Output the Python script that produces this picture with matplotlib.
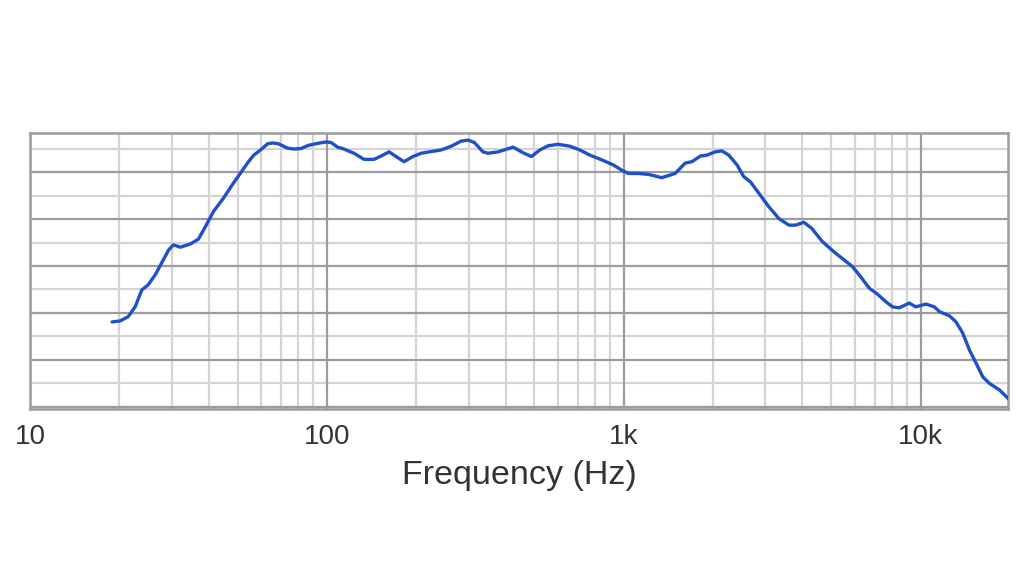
import matplotlib
matplotlib.use("Agg")
import matplotlib.pyplot as plt
import numpy as np
from matplotlib.ticker import FixedLocator, NullFormatter

plt.rcParams['font.family'] = ['Liberation Sans', 'DejaVu Sans']

# frequency response (Hz, dB)
freq = [18.9, 20.1, 21.4, 22.6, 23.8, 25.0, 26.4, 27.9, 29.3, 30.4, 32.1, 34.7,
        36.9, 39.0, 41.5, 44.9, 48.5, 51.2, 54.0, 56.7, 59.8, 63.1, 65.6, 68.8,
        73.6, 77.4, 81.7, 86.9, 93.0, 99.2, 103.2, 108.7, 113.0, 123.4, 133.4,
        144.1, 152.2, 162.0, 171.0, 182.0, 194.8, 207.8, 221.2, 242.7, 262.4,
        283.6, 298.8, 313.8, 335.7, 349.1, 377.3, 424.0, 458.3, 488.7, 521.6,
        556.7, 601.5, 658.5, 711.5, 769.2, 842.8, 923.0, 984.5, 1037, 1121,
        1212, 1343, 1490, 1610, 1697, 1811, 1906, 2034, 2143, 2258, 2409, 2538,
        2672, 2851, 3083, 3332, 3601, 3791, 4046, 4300, 4667, 5110, 5522,
        5890, 6285, 6710, 7156, 7635, 8043, 8472, 9157, 9640, 10420, 11125,
        11570, 12500, 13160, 13870, 14610, 15380, 16200, 17060, 18450, 19940]
spl = [58.1, 58.3, 59.2, 61.3, 64.9, 66.0, 68.1, 70.9, 73.4, 74.5, 74.0, 74.7,
       75.7, 78.4, 81.6, 84.5, 87.7, 89.8, 91.9, 93.6, 94.7, 96.0, 96.2, 96.0,
       95.1, 94.9, 95.0, 95.7, 96.1, 96.4, 96.3, 95.3, 95.0, 94.0, 92.7,
       92.7, 93.4, 94.3, 93.3, 92.2, 93.3, 94.0, 94.3, 94.7, 95.5,
       96.6, 96.8, 96.3, 94.3, 94.0, 94.3, 95.3, 94.1, 93.3, 94.7,
       95.6, 95.9, 95.5, 94.7, 93.6, 92.6, 91.5, 90.4, 89.7, 89.7,
       89.5, 88.8, 89.7, 91.9, 92.2, 93.4, 93.6, 94.3, 94.5, 93.6, 91.5, 89.0,
       87.9, 85.5, 82.6, 80.1, 78.7, 78.7, 79.3, 78.0, 75.2, 73.0, 71.3,
       69.9, 67.7, 65.3, 64.0, 62.4, 61.3, 61.1, 62.1, 61.3, 61.9, 61.3,
       60.3, 59.4, 58.1, 55.7, 52.1, 49.3, 46.4, 45.0, 43.6, 41.5]

tick_pos = [10, 100, 1000, 10000]
tick_lab = ["10", "100", "1k", "10k"]

dark = "#9c9c9c"
light = "#d4d4d4"

fig = plt.figure(figsize=(10.24, 5.76), dpi=100)
ax = fig.add_axes([0.0293, 0.29, 0.9551, 0.479])

ax.set_xscale("log")
ax.set_xlim(10, 19700)
ax.set_ylim(39.57, 98.3)

# grid lines
minors = [m * d for d in [10, 100, 1000] for m in range(2, 10)]
for x in minors:
    ax.axvline(x, color=light, lw=1.6, zorder=1)
for x in tick_pos:
    ax.axvline(x, color=dark, lw=1.6, zorder=2)
for y in np.arange(45, 100, 10):
    ax.axhline(y, color=light, lw=1.6, zorder=1)
for y in np.arange(40, 95, 10):
    ax.axhline(y, color=dark, lw=1.6, zorder=2)

ax.plot(freq, spl, color="#1f4fc9", lw=2.4, zorder=3,
        solid_capstyle="round", solid_joinstyle="round")

for s in ax.spines.values():
    s.set_color(dark)
    s.set_linewidth(1.8)

ax.xaxis.set_major_locator(FixedLocator(tick_pos))
ax.set_xticklabels(tick_lab)
ax.xaxis.set_minor_formatter(NullFormatter())
ax.tick_params(axis="x", which="both", length=0, pad=11, labelsize=20,
               labelcolor="#333333")
ax.set_yticks([])
ax.set_xlabel("Frequency (Hz)", fontsize=24.5, color="#333333", labelpad=7)

fig.savefig("out.png", dpi=100)
